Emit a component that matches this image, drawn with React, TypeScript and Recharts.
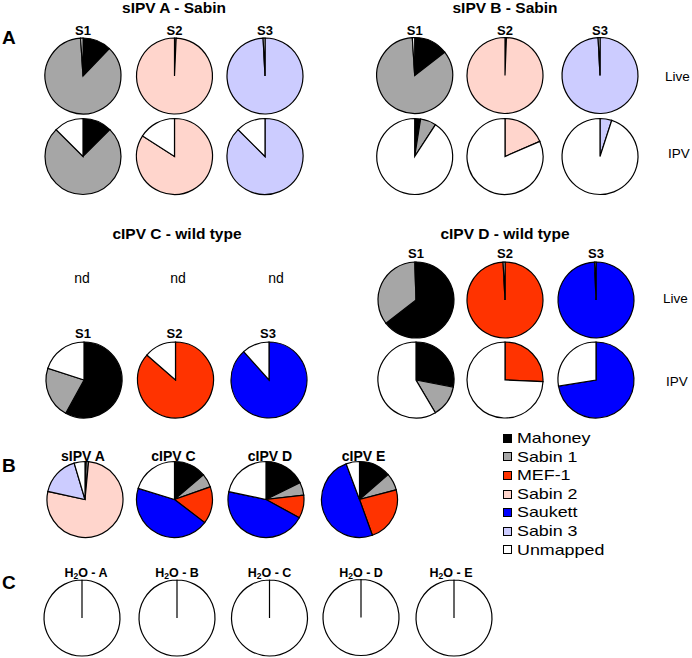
import React from 'react';
import { PieChart, Pie, Cell, Legend } from 'recharts';

// ---------- data ----------
const categories = ['Mahoney', 'Sabin 1', 'MEF-1', 'Sabin 2', 'Saukett', 'Sabin 3', 'Unmapped'];
const colors = ['#000000', '#A6A6A6', '#FF3300', '#FFD5CC', '#0000FF', '#CCCCFF', '#FFFFFF'];

// order of values: Mahoney, Sabin 1, MEF-1, Sabin 2, Saukett, Sabin 3, Unmapped
const sipvA_S1_live = [12.2, 86.8, 0, 0, 0, 0, 1.0];
const sipvA_S2_live = [0, 0.7, 0, 99.3, 0, 0, 0];
const sipvA_S3_live = [0, 0, 0, 0, 0, 99.2, 0.8];
const sipvA_S1_ipv = [12.5, 75, 0, 0, 0, 0, 12.5];
const sipvA_S2_ipv = [0, 0, 0, 84.1, 0, 0, 15.9];
const sipvA_S3_ipv = [0, 0, 0, 0, 0, 87.5, 12.5];

const sipvB_S1_live = [14.5, 84.5, 0, 0, 0, 0, 1.0];
const sipvB_S2_live = [0, 0.6, 0, 99.4, 0, 0, 0];
const sipvB_S3_live = [0, 0, 0, 0, 0, 99.2, 0.8];
const sipvB_S1_ipv = [2.5, 6.7, 0, 0, 0, 0, 90.8];
const sipvB_S2_ipv = [0, 0, 0, 18.5, 0, 0, 81.5];
const sipvB_S3_ipv = [0, 0, 0, 0, 0, 5, 95];

const cipvC_S1_ipv = [58, 22, 0, 0, 0, 0, 20];
const cipvC_S2_ipv = [0, 0, 86.4, 0, 0, 0, 13.6];
const cipvC_S3_ipv = [0, 0, 0, 0, 88.4, 0, 11.6];

const cipvD_S1_live = [64.5, 35, 0, 0, 0, 0, 0.5];
const cipvD_S2_live = [0, 0, 99.2, 0, 0, 0, 0.8];
const cipvD_S3_live = [0, 0, 0, 0, 99.4, 0, 0.6];
const cipvD_S1_ipv = [28, 13.5, 0, 0, 0, 0, 58.5];
const cipvD_S2_ipv = [0, 0, 25.7, 0, 0, 0, 74.3];
const cipvD_S3_ipv = [0, 0, 0, 0, 72.4, 0, 27.6];

const pooled_sipvA = [0.5, 1.0, 0, 76.9, 0, 17, 4.6];
const pooled_cipvC = [13.8, 5.8, 15.8, 0, 44.3, 0, 20.3];
const pooled_cipvD = [17.7, 5.5, 9.8, 0, 45.3, 0, 21.7];
const pooled_cipvE = [13.6, 7.3, 23.6, 0, 49.8, 0, 5.7];

const h2o_A = [0, 0, 0, 0, 0, 0, 100];
const h2o_B = [0, 0, 0, 0, 0, 0, 100];
const h2o_C = [0, 0, 0, 0, 0, 0, 100];
const h2o_D = [0, 0, 0, 0, 0, 0, 100];
const h2o_E = [0, 0, 0, 0, 0, 0, 100];

const serumLabels = ['S1', 'S2', 'S3'];
const pooledLabels = ['sIPV A', 'cIPV C', 'cIPV D', 'cIPV E'];
const waterLabels = ['A', 'B', 'C', 'D', 'E'];

// ---------- layout ----------
const W = 692;
const H = 658;
const R = 38;
const FONT = 'Liberation Sans, Arial, Helvetica, sans-serif';

const colA = [83, 174.5, 265];
const colB = [414.7, 505, 600];
const colC = [84, 175.5, 269];
const colD = [416, 505, 596];
const colPooled = [85, 174.5, 266, 359.5];
const colWater = [82, 177, 269.5, 361, 454];

type PieSpec = { id: string; values: number[]; cx: number; cy: number };

const pies: PieSpec[] = [
  { id: 'aS1l', values: sipvA_S1_live, cx: colA[0], cy: 76 },
  { id: 'aS2l', values: sipvA_S2_live, cx: colA[1], cy: 76 },
  { id: 'aS3l', values: sipvA_S3_live, cx: colA[2], cy: 76 },
  { id: 'aS1i', values: sipvA_S1_ipv, cx: colA[0], cy: 156.5 },
  { id: 'aS2i', values: sipvA_S2_ipv, cx: colA[1], cy: 156.5 },
  { id: 'aS3i', values: sipvA_S3_ipv, cx: colA[2], cy: 156.5 },
  { id: 'bS1l', values: sipvB_S1_live, cx: colB[0], cy: 75.5 },
  { id: 'bS2l', values: sipvB_S2_live, cx: colB[1], cy: 75.5 },
  { id: 'bS3l', values: sipvB_S3_live, cx: colB[2], cy: 75.5 },
  { id: 'bS1i', values: sipvB_S1_ipv, cx: colB[0], cy: 156.5 },
  { id: 'bS2i', values: sipvB_S2_ipv, cx: colB[1], cy: 156.5 },
  { id: 'bS3i', values: sipvB_S3_ipv, cx: colB[2], cy: 156.5 },
  { id: 'cS1i', values: cipvC_S1_ipv, cx: colC[0], cy: 380 },
  { id: 'cS2i', values: cipvC_S2_ipv, cx: colC[1], cy: 380 },
  { id: 'cS3i', values: cipvC_S3_ipv, cx: colC[2], cy: 380 },
  { id: 'dS1l', values: cipvD_S1_live, cx: colD[0], cy: 300 },
  { id: 'dS2l', values: cipvD_S2_live, cx: colD[1], cy: 300 },
  { id: 'dS3l', values: cipvD_S3_live, cx: colD[2], cy: 300 },
  { id: 'dS1i', values: cipvD_S1_ipv, cx: colD[0], cy: 380 },
  { id: 'dS2i', values: cipvD_S2_ipv, cx: colD[1], cy: 380 },
  { id: 'dS3i', values: cipvD_S3_ipv, cx: colD[2], cy: 380 },
  { id: 'pA', values: pooled_sipvA, cx: colPooled[0], cy: 499.5 },
  { id: 'pC', values: pooled_cipvC, cx: colPooled[1], cy: 499.5 },
  { id: 'pD', values: pooled_cipvD, cx: colPooled[2], cy: 499.5 },
  { id: 'pE', values: pooled_cipvE, cx: colPooled[3], cy: 499.5 },
  { id: 'wA', values: h2o_A, cx: colWater[0], cy: 618 },
  { id: 'wB', values: h2o_B, cx: colWater[1], cy: 618 },
  { id: 'wC', values: h2o_C, cx: colWater[2], cy: 618 },
  { id: 'wD', values: h2o_D, cx: colWater[3], cy: 617.5 },
  { id: 'wE', values: h2o_E, cx: colWater[4], cy: 618 },
];

function toData(values: number[]) {
  return values
    .map((v, i) => ({ name: categories[i], value: v, color: colors[i] }))
    .filter((d) => d.value > 0);
}

const T = (props: {
  x: number;
  y: number;
  size: number;
  bold?: boolean;
  anchor?: 'start' | 'middle' | 'end';
  children: React.ReactNode;
}) => (
  <text
    x={props.x}
    y={props.y}
    fontSize={props.size}
    fontWeight={props.bold ? 'bold' : 'normal'}
    textAnchor={props.anchor || 'middle'}
    dominantBaseline="central"
    fontFamily={FONT}
    fill="#000"
  >
    {props.children}
  </text>
);

const LegendContent = () => (
  <div style={{ fontFamily: FONT, fontSize: 15, lineHeight: '18.6px' }}>
    {categories.map((c, i) => (
      <div key={c} style={{ display: 'flex', alignItems: 'center', height: 18.6 }}>
        <span
          style={{
            display: 'inline-block',
            width: 7,
            height: 7,
            background: colors[i],
            border: '1px solid #000',
            marginRight: 5,
          }}
        />
        <span style={{ display: 'inline-block', transform: 'scaleX(1.19)', transformOrigin: 'left center', whiteSpace: 'nowrap' }}>
          {c}
        </span>
      </div>
    ))}
  </div>
);

export default function App() {
  return (
    <div style={{ position: 'absolute', left: 0, top: 0, width: W, height: H, background: '#fff' }}>
      <PieChart width={W} height={H} margin={{ top: 0, right: 0, bottom: 0, left: 0 }}>
        {pies.map((p) => {
          const data = toData(p.values);
          return (
            <Pie
              key={p.id}
              data={data}
              dataKey="value"
              nameKey="name"
              cx={p.cx}
              cy={p.cy}
              outerRadius={R}
              innerRadius={0}
              startAngle={90}
              endAngle={-270}
              stroke="#000"
              strokeWidth={1.2}
              isAnimationActive={false}
              legendType="none"
            >
              {data.map((d) => (
                <Cell key={d.name} fill={d.color} stroke="#000" strokeWidth={1.2} />
              ))}
            </Pie>
          );
        })}

        {/* Panel A */}
        <T x={2} y={37} size={19} bold anchor="start">A</T>
        <T x={174} y={7} size={15.5} bold>sIPV A - Sabin</T>
        <T x={505} y={7} size={15.5} bold>sIPV B - Sabin</T>
        {serumLabels.map((s, i) => (
          <T key={'a' + s} x={colA[i]} y={30.5} size={13} bold>{s}</T>
        ))}
        {serumLabels.map((s, i) => (
          <T key={'b' + s} x={colB[i]} y={30.5} size={13} bold>{s}</T>
        ))}
        <T x={665} y={76} size={13.5} anchor="start">Live</T>
        <T x={668} y={153} size={13.5} anchor="start">IPV</T>

        <T x={177} y={233} size={15.5} bold>cIPV C - wild type</T>
        <T x={505} y={233} size={15.5} bold>cIPV D - wild type</T>
        <T x={82} y={278} size={14}>nd</T>
        <T x={178} y={278} size={14}>nd</T>
        <T x={276} y={278} size={14}>nd</T>
        {serumLabels.map((s, i) => (
          <T key={'c' + s} x={colC[i] - 1} y={333} size={13} bold>{s}</T>
        ))}
        {serumLabels.map((s, i) => (
          <T key={'d' + s} x={colD[i]} y={253} size={13} bold>{s}</T>
        ))}
        <T x={663} y={298.5} size={13.5} anchor="start">Live</T>
        <T x={666} y={381} size={13.5} anchor="start">IPV</T>

        {/* Panel B */}
        <T x={2} y={465} size={19} bold anchor="start">B</T>
        {pooledLabels.map((s, i) => (
          <T key={'p' + s} x={colPooled[i] - (i === 0 ? 2 : i === 1 ? 1 : -4)} y={456} size={14} bold>{s}</T>
        ))}

        {/* Panel C */}
        <T x={2} y={582.5} size={19} bold anchor="start">C</T>
        {waterLabels.map((s, i) => (
          <text
            key={'w' + s}
            x={colWater[i] + (i === 0 ? 4 : i === 4 ? -3 : 0)}
            y={573}
            fontSize={12.5}
            fontWeight="bold"
            textAnchor="middle"
            dominantBaseline="central"
            fontFamily={FONT}
          >
            H<tspan fontSize={8.5} dy={3}>2</tspan>
            <tspan dy={-3}>{'O - ' + s}</tspan>
          </text>
        ))}

        <Legend
          layout="vertical"
          align="right"
          verticalAlign="top"
          content={LegendContent}
          wrapperStyle={{ position: 'absolute', left: 503, top: 429, width: 150, height: 131 }}
        />
      </PieChart>
    </div>
  );
}
